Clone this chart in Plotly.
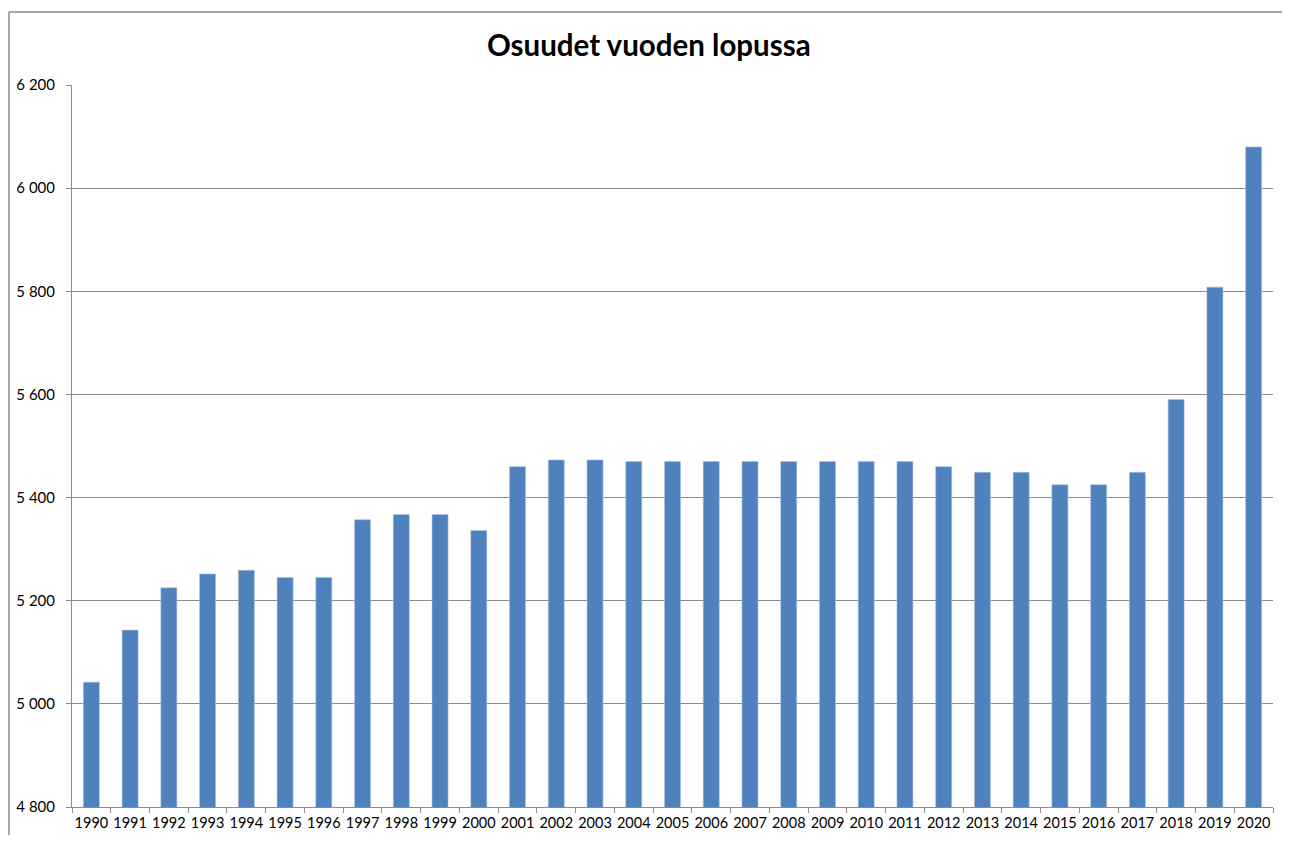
import plotly.graph_objects as go

# Osuudet vuoden lopussa
years = [str(y) for y in range(1990, 2021)]
shares = [5042, 5143, 5225, 5252, 5259, 5245, 5245, 5357, 5367, 5367, 5336,
          5460, 5473, 5473, 5470, 5470, 5470, 5470, 5470, 5470, 5470, 5470,
          5460, 5449, 5449, 5425, 5425, 5449, 5590, 5808, 6080]
y_ticks = [4800, 5000, 5200, 5400, 5600, 5800, 6000, 6200]

grid_col = "#8c8c8c"
font_family = "Lato, 'Open Sans', sans-serif"

fig = go.Figure()
fig.add_trace(go.Bar(
    x=years, y=shares,
    marker=dict(color="#4F81BD", line=dict(color="#A9C0DE", width=0.6)),
    hoverinfo="x+y",
))

# chart border (top and left edge as in the source)
fig.add_shape(type="line", xref="paper", yref="paper",
              x0=-0.0525, x1=1.0075, y0=1.1011, y1=1.1011,
              line=dict(color="#8a8a8a", width=1.5))
fig.add_shape(type="line", xref="paper", yref="paper",
              x0=-0.0525, x1=-0.0525, y0=-0.0388, y1=1.1011,
              line=dict(color="#8a8a8a", width=1.5))

fig.update_layout(
    width=1274, height=827,
    margin=dict(l=64, r=9, t=77, b=28),
    paper_bgcolor="white", plot_bgcolor="white",
    separators=", ",
    bargap=0.587,
    showlegend=False,
    font=dict(family=font_family, size=15, color="black"),
    title=dict(text="<b>Osuudet vuoden lopussa</b>", xref="container", x=0.503,
               yref="container", y=0.955, xanchor="center", yanchor="middle",
               font=dict(family=font_family, size=29.5, color="black")),
    xaxis=dict(type="category", showgrid=False, showline=True, linecolor=grid_col,
               linewidth=1, ticks="outside", tickson="boundaries", ticklen=5,
               tickcolor=grid_col, tickangle=0, automargin=False,
               ticklabelstandoff=3, tickfont=dict(size=14.5)),
    yaxis=dict(range=[4800, 6200], tickvals=y_ticks, tickformat=",d",
               showgrid=True, gridcolor=grid_col, gridwidth=1,
               showline=True, linecolor=grid_col, linewidth=1,
               ticks="outside", ticklen=5, tickcolor=grid_col, automargin=False,
               ticklabelstandoff=8, zeroline=False, tickfont=dict(size=15)),
)

fig.write_html("out.html")
